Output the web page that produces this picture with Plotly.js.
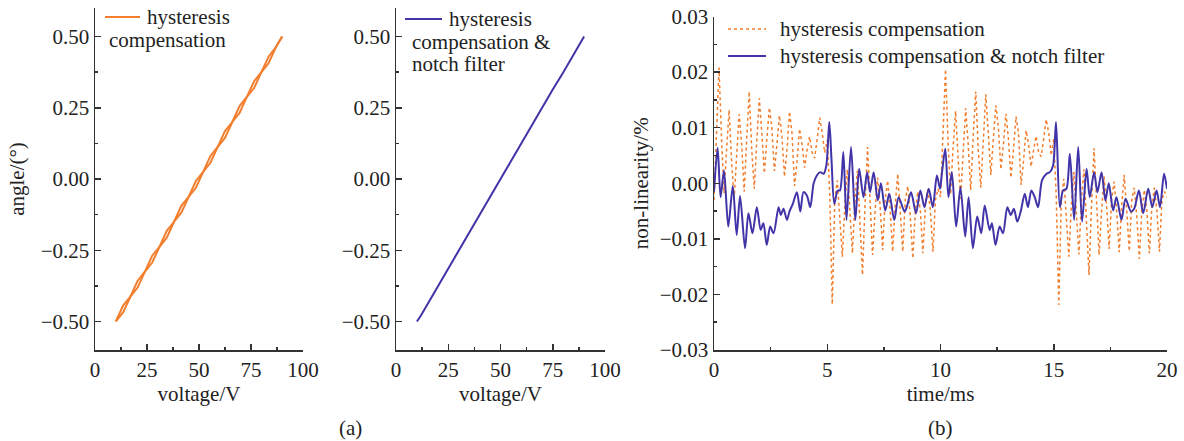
<!DOCTYPE html>
<html>
<head>
<meta charset="utf-8">
<script src="https://cdn.plot.ly/plotly-3.0.1.min.js"></script>
<style>html,body{margin:0;padding:0;background:#fff;}#chart{width:1184px;height:441px;}</style>
</head>
<body>
<div id="chart"></div>
<script>
// ---------- data ----------
// (a) left: hysteresis compensation, rising and falling branches
const hcVoltUp    = [10,13.5,17,20.5,24,27.5,31,34.5,38,41.5,45,48.5,52,55.5,59,62.5,66,69.5,73,76.5,80,83.5,87,90];
const hcAngleUp   = [-0.500,-0.468,-0.413,-0.381,-0.325,-0.293,-0.238,-0.206,-0.150,-0.118,-0.063,-0.031,0.025,0.057,0.113,0.144,0.200,0.232,0.288,0.319,0.375,0.407,0.463,0.500];
const hcVoltDown  = [90,87,83.5,80,76.5,73,69.5,66,62.5,59,55.5,52,48.5,45,41.5,38,34.5,31,27.5,24,20.5,17,13.5,10];
const hcAngleDown = [0.500,0.463,0.430,0.375,0.343,0.288,0.256,0.200,0.168,0.113,0.081,0.025,-0.007,-0.063,-0.094,-0.150,-0.182,-0.238,-0.269,-0.325,-0.357,-0.413,-0.444,-0.500];

// (a) middle: hysteresis compensation & notch filter
const nfVolt  = [10,12,15,20,25,30,35,40,45,50,55,60,65,70,75,80,85,90];
const nfAngle = [-0.500,-0.478,-0.440,-0.377,-0.313,-0.251,-0.187,-0.126,-0.062,0.000,0.063,0.125,0.188,0.249,0.314,0.374,0.438,0.500];

// (b) non-linearity (%), hysteresis compensation, sampled every 1/9 ms from 0 to 20 ms
const hcStartMs = 0;
const hcStepMs = 1/9;
const hcNonlin = [
 -0.0030, 0.0090, 0.0208, 0.0080,-0.0018, 0.0060, 0.0132, 0.0040,-0.0030, 0.0050,
  0.0124, 0.0070,-0.0015, 0.0080, 0.0165, 0.0060,-0.0010, 0.0075, 0.0153, 0.0090,
  0.0018, 0.0080, 0.0136, 0.0100, 0.0022, 0.0070, 0.0122, 0.0085, 0.0012, 0.0060,
  0.0129, 0.0090,-0.0005, 0.0040, 0.0098, 0.0070, 0.0028, 0.0060, 0.0084, 0.0055,
  0.0045, 0.0080, 0.0118, 0.0090, 0.0055, 0.0078,-0.0020,-0.0218,-0.0030, 0.0005,
 -0.0060,-0.0132,-0.0040, 0.0025,-0.0050,-0.0126,-0.0030, 0.0023,-0.0070,-0.0165,
 -0.0040, 0.0065,-0.0030,-0.0129,-0.0050, 0.0010,-0.0040,-0.0120,-0.0030, 0.0005,
 -0.0050,-0.0123,-0.0040, 0.0017,-0.0050,-0.0123,-0.0030,-0.0005,-0.0060,-0.0135,
 -0.0050,-0.0015,-0.0050,-0.0126,-0.0040,-0.0010,-0.0050,-0.0123,-0.0030,-0.0010,
 -0.0025, 0.0085, 0.0205, 0.0075,-0.0020, 0.0065, 0.0130, 0.0045,-0.0028, 0.0055,
  0.0135, 0.0070,-0.0012, 0.0085, 0.0165, 0.0060,-0.0008, 0.0075, 0.0160, 0.0090,
  0.0015, 0.0080, 0.0140, 0.0100, 0.0025, 0.0070, 0.0125, 0.0080, 0.0010, 0.0060,
  0.0120, 0.0090,-0.0003, 0.0040, 0.0095, 0.0070, 0.0030, 0.0060, 0.0085, 0.0055,
  0.0048, 0.0080, 0.0115, 0.0090, 0.0050, 0.0080,-0.0025,-0.0219,-0.0030, 0.0008,
 -0.0060,-0.0132,-0.0040, 0.0020,-0.0055,-0.0128,-0.0030, 0.0025,-0.0070,-0.0165,
 -0.0040, 0.0063,-0.0030,-0.0129,-0.0050, 0.0012,-0.0040,-0.0118,-0.0030, 0.0003,
 -0.0050,-0.0124,-0.0040, 0.0015,-0.0050,-0.0122,-0.0030,-0.0008,-0.0060,-0.0136,
 -0.0050,-0.0012,-0.0050,-0.0126,-0.0040,-0.0008,-0.0050,-0.0123,-0.0030,-0.0015,
 -0.0025
];

// (b) non-linearity (%), hysteresis compensation & notch filter
const nfTime = [0.00,0.16,0.29,0.44,0.63,0.83,1.00,1.15,1.37,1.52,1.70,1.89,2.06,2.18,2.33,2.48,2.63,2.85,2.95,3.07,
  3.22,3.33,3.48,3.66,3.81,3.95,4.10,4.25,4.40,4.54,4.69,4.84,4.96,5.09,5.19,5.31,5.46,5.56,5.71,5.85,
  6.05,6.24,6.41,6.60,6.76,6.89,7.05,7.23,7.37,7.56,7.74,7.96,8.15,8.41,8.51,8.70,8.92,9.11,9.29,9.48,
  9.66,9.84,9.98,10.06,10.21,10.35,10.50,10.69,10.88,11.09,11.24,11.43,11.62,11.80,11.95,12.17,12.27,12.43,12.61,12.76,
  12.95,13.10,13.24,13.39,13.54,13.72,13.86,14.01,14.16,14.31,14.48,14.68,14.83,14.97,15.10,15.27,15.41,15.56,15.71,15.90,
  16.08,16.25,16.45,16.59,16.78,16.93,17.11,17.28,17.43,17.62,17.77,17.99,18.17,18.41,18.55,18.76,18.95,19.17,19.35,19.54,
  19.69,19.87,20.00];
const nfNonlin = [-0.0015,0.0064,-0.0025,0.0023,-0.0078,-0.0005,-0.0093,-0.0023,-0.0117,-0.0054,-0.0090,-0.0043,-0.0084,-0.0072,-0.0111,-0.0078,-0.0090,-0.0043,-0.0057,-0.0046,
  -0.0066,-0.0051,-0.0037,-0.0016,-0.0051,-0.0016,-0.0022,-0.0043,0.0000,0.0014,0.0020,0.0017,0.0032,0.0110,0.0041,-0.0037,-0.0013,-0.0013,0.0056,-0.0066,
  0.0065,-0.0066,0.0026,-0.0025,0.0020,-0.0016,0.0020,-0.0031,0.0000,-0.0049,-0.0019,-0.0066,-0.0025,-0.0051,-0.0043,-0.0016,-0.0054,-0.0013,-0.0043,-0.0010,
  -0.0043,0.0014,-0.0010,0.0017,0.0062,-0.0025,0.0020,-0.0078,-0.0007,-0.0096,-0.0025,-0.0117,-0.0060,-0.0090,-0.0040,-0.0084,-0.0072,-0.0111,-0.0078,-0.0090,
  -0.0043,-0.0057,-0.0046,-0.0069,-0.0051,-0.0019,-0.0043,-0.0013,-0.0025,-0.0043,0.0005,0.0017,0.0020,0.0032,0.0110,-0.0043,-0.0013,-0.0010,0.0053,-0.0066,
  0.0065,-0.0069,0.0026,-0.0025,0.0020,-0.0016,0.0020,-0.0031,0.0000,-0.0049,-0.0025,-0.0066,-0.0028,-0.0051,-0.0046,-0.0013,-0.0054,-0.0010,-0.0043,-0.0013,
  -0.0043,0.0017,-0.0010];

// ---------- styling ----------
const W = 1184, H = 441;
const px = x => x / W;
const py = y => 1 - y / H;
const FONT = 'Liberation Serif, Times New Roman, serif';
const ORANGE = '#F27E2E';
const BLUE = '#4034A8';
const AX = '#333333';

function axisBase(extra) {
  return Object.assign({
    showline: true, linecolor: AX, linewidth: 1.5,
    ticks: 'inside', ticklen: 6, tickwidth: 1.5, tickcolor: AX,
    showgrid: false, zeroline: false, mirror: false,
    tickfont: {family: FONT, size: 21, color: '#222'},
    automargin: false, fixedrange: true
  }, extra);
}

const traces = [
  {x: hcVoltUp, y: hcAngleUp, xaxis: 'x', yaxis: 'y', mode: 'lines', line: {color: ORANGE, width: 2}, name: 'hysteresis compensation', showlegend: false},
  {x: hcVoltDown, y: hcAngleDown, xaxis: 'x', yaxis: 'y', mode: 'lines', line: {color: ORANGE, width: 2}, name: 'hysteresis compensation', showlegend: false},
  {x: nfVolt, y: nfAngle, xaxis: 'x2', yaxis: 'y2', mode: 'lines', line: {color: BLUE, width: 2}, name: 'hysteresis compensation & notch filter', showlegend: false},
  {x0: hcStartMs, dx: hcStepMs, y: hcNonlin, xaxis: 'x3', yaxis: 'y3', mode: 'lines', line: {color: ORANGE, width: 1.5, dash: 'dot'}, name: 'hysteresis compensation', showlegend: false},
  {x: nfTime, y: nfNonlin, xaxis: 'x3', yaxis: 'y3', mode: 'lines', line: {color: BLUE, width: 2, shape: 'spline', smoothing: 0.8}, name: 'hysteresis compensation & notch filter', showlegend: false}
];

const angleY = {range: [-0.6, 0.6], tick0: -0.5, dtick: 0.25, tickformat: '.2f',
  minor: {dtick: 0.125, tick0: -0.5, ticks: 'inside', ticklen: 3, tickwidth: 1.5, tickcolor: AX}};
const voltX = {range: [0, 100], tick0: 0, dtick: 25,
  minor: {dtick: 12.5, tick0: 0, ticks: 'inside', ticklen: 3, tickwidth: 1.5, tickcolor: AX},
  title: {text: 'voltage/V', font: {family: FONT, size: 21, color: '#222'}, standoff: 2}};

const layout = {
  width: W, height: H,
  margin: {l: 0, r: 0, t: 0, b: 0},
  paper_bgcolor: '#fff', plot_bgcolor: '#fff',
  showlegend: false,
  font: {family: FONT, size: 21, color: '#222'},
  xaxis: axisBase(Object.assign({domain: [px(95), px(303)], anchor: 'y'}, voltX)),
  yaxis: axisBase(Object.assign({domain: [py(350), py(8)], anchor: 'x',
    title: {text: 'angle/(°)', font: {family: FONT, size: 21, color: '#222'}, standoff: 10}}, angleY)),
  xaxis2: axisBase(Object.assign({domain: [px(396), px(605)], anchor: 'y2'}, voltX)),
  yaxis2: axisBase(Object.assign({domain: [py(350), py(8)], anchor: 'x2'}, angleY)),
  xaxis3: axisBase({domain: [px(714), px(1167)], anchor: 'y3', range: [0, 20], tick0: 0, dtick: 5,
    minor: {dtick: 2.5, tick0: 0, ticks: 'inside', ticklen: 3, tickwidth: 1.5, tickcolor: AX},
    title: {text: 'time/ms', font: {family: FONT, size: 21, color: '#222'}, standoff: 2}}),
  yaxis3: axisBase({domain: [py(350), py(16.5)], anchor: 'x3', range: [-0.03, 0.03], tick0: -0.03, dtick: 0.01, tickformat: '.2f',
    minor: {dtick: 0.005, tick0: -0.03, ticks: 'inside', ticklen: 3, tickwidth: 1.5, tickcolor: AX},
    title: {text: 'non-linearity/%', font: {family: FONT, size: 21, color: '#222'}, standoff: 5}}),
  shapes: [
    {type: 'line', xref: 'paper', yref: 'paper', x0: px(105), x1: px(140), y0: py(17), y1: py(17), line: {color: ORANGE, width: 2}},
    {type: 'line', xref: 'paper', yref: 'paper', x0: px(405), x1: px(442), y0: py(19), y1: py(19), line: {color: BLUE, width: 2}},
    {type: 'line', xref: 'paper', yref: 'paper', x0: px(728), x1: px(766), y0: py(29), y1: py(29), line: {color: ORANGE, width: 1.5, dash: 'dot'}},
    {type: 'line', xref: 'paper', yref: 'paper', x0: px(728), x1: px(766), y0: py(56), y1: py(56), line: {color: BLUE, width: 2}}
  ],
  annotations: [
    {text: 'hysteresis', x: px(145), y: py(17)},
    {text: 'compensation', x: px(107), y: py(40)},
    {text: 'hysteresis', x: px(447), y: py(19)},
    {text: 'compensation &amp;', x: px(410), y: py(42)},
    {text: 'notch filter', x: px(410), y: py(64)},
    {text: 'hysteresis compensation', x: px(778), y: py(29)},
    {text: 'hysteresis compensation &amp; notch filter', x: px(778), y: py(56)},
    {text: '(a)', x: px(350), y: py(428), xanchor: 'center'},
    {text: '(b)', x: px(940), y: py(428), xanchor: 'center'}
  ].map(a => Object.assign({xref: 'paper', yref: 'paper', xanchor: 'left', yanchor: 'middle', showarrow: false,
    font: {family: FONT, size: 21, color: '#222'}}, a))
};

Plotly.newPlot('chart', traces, layout, {staticPlot: true, displayModeBar: false});
</script>
</body>
</html>
